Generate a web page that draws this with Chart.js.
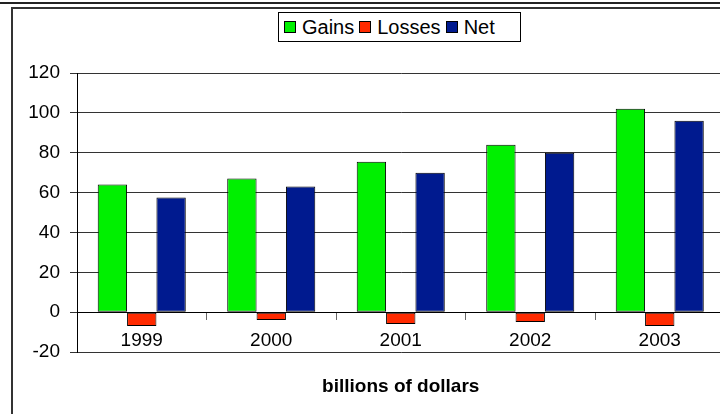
<!DOCTYPE html>
<html>
<head>
<meta charset="utf-8">
<script src="https://cdn.jsdelivr.net/npm/chart.js@4.4.0/dist/chart.umd.min.js"></script>
<style>
  html, body { margin: 0; padding: 0; background: #fff; overflow: hidden; }
  #wrap { position: relative; width: 720px; height: 414px; overflow: hidden; }
  #box { position: absolute; left: 0; top: 0; width: 740px; height: 414px; }
  #topline { position: absolute; left: 0; top: 2px; width: 720px; height: 0; border-top: 2px solid #222; }
  #frame { position: absolute; left: 11px; top: 7px; width: 720px; height: 420px;
           border-left: 2px solid #333; border-top: 2px solid #333; }
  #legend { position: absolute; left: 278px; top: 12px; width: 241px; height: 28px;
            border: 1px solid #000; background: #fff; font-family: "Liberation Sans", Arial, sans-serif;
            font-size: 20px; line-height: 28px; white-space: nowrap; }
  #legend span.sw { display: inline-block; width: 10px; height: 10px; border: 1px solid #000;
            vertical-align: middle; margin: -3px 6px 0 5px; }
</style>
</head>
<body>
<div id="wrap">
  <div id="topline"></div>
  <div id="frame"></div>
  <div id="box"><canvas id="myChartBar" width="740" height="414"></canvas></div>
  <div id="legend"></div>
</div>
<script>
const years = ["1999", "2000", "2001", "2002", "2003"];
const gains = [64, 67, 75.5, 84, 102];
const losses = [-7, -4, -6, -5, -7];
const net = [57.5, 63, 70, 80, 96];
const seriesNames = ["Gains", "Losses", "Net"];
const seriesColors = ["#00f000", "#ff2a00", "#001a8f"];

// html legend, placed like the original
const legendBox = document.getElementById("legend");
seriesNames.forEach((name, i) => {
  legendBox.innerHTML += '<span class="sw" style="background:' + seriesColors[i] + '"></span>' + name;
});

const canvas_bar = document.getElementById("myChartBar");
let myChart_bar = new Chart(canvas_bar, {
  type: "bar",
  data: {
    labels: years,
    datasets: [
      { label: seriesNames[0], data: gains, backgroundColor: seriesColors[0] },
      { label: seriesNames[1], data: losses, backgroundColor: seriesColors[1] },
      { label: seriesNames[2], data: net, backgroundColor: seriesColors[2] },
    ],
  },
  options: {
    responsive: false,
    animation: false,
    events: [],
    layout: { padding: { left: 0, right: 15.5, top: 73, bottom: 0 } },
    datasets: {
      bar: {
        categoryPercentage: 0.68,
        barPercentage: 1,
        borderColor: "#000",
        borderWidth: 1,
        borderSkipped: false,
      },
    },
    plugins: {
      legend: { display: false },
      tooltip: { enabled: false },
      title: {
        display: true,
        position: "bottom",
        fullSize: false,
        text: "billions of dollars",
        color: "#000",
        font: { family: "'Liberation Sans', Arial", size: 19, weight: "bold" },
        padding: { top: 23.6, bottom: 15.6 },
      },
    },
    scales: {
      x: {
        position: { y: 0 },
        grid: { drawOnChartArea: false, drawTicks: true, tickLength: 7, color: "#666", offset: true },
        border: { color: "#000", width: 1 },
        ticks: { color: "#000", padding: 10, font: { family: "'Liberation Sans', Arial", size: 19 } },
      },
      y: {
        min: -20,
        max: 120,
        afterFit: (s) => { s.width = 77; },
        grid: { color: "#333", tickLength: 7 },
        border: { color: "#000", width: 1 },
        ticks: { stepSize: 20, color: "#000", padding: 10, font: { family: "'Liberation Sans', Arial", size: 19 } },
      },
    },
  },
});
</script>
</body>
</html>
